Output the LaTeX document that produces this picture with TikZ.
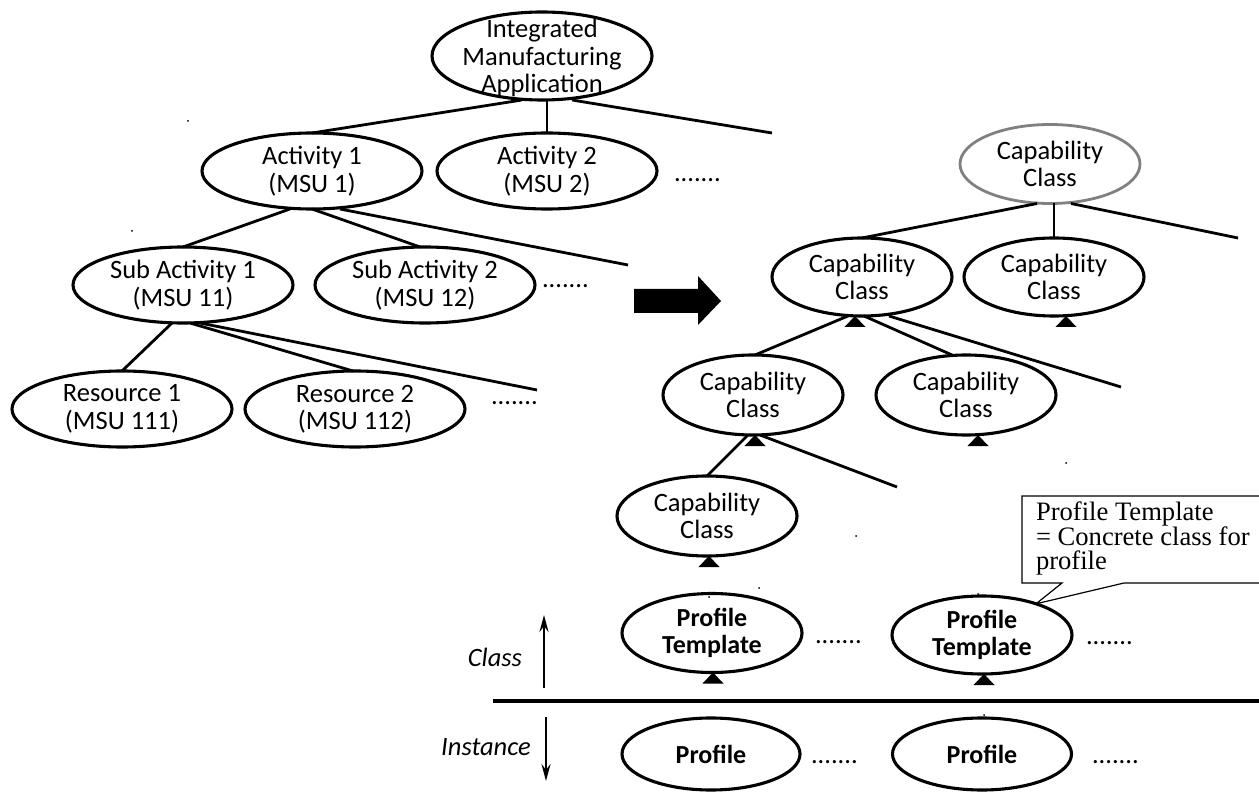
\documentclass[tikz,border=0pt]{standalone}
\usepackage{fontspec}
\setmainfont{Carlito}
\newfontfamily\calloutfont{Liberation Serif}
\usetikzlibrary{shapes.geometric,arrows.meta}

% generalization marker: small filled triangle under a class ellipse
\newcommand\basetri[2]{\fill ([xshift=#2pt]#1.south) -- ++(10.5,11) -- ++(-21,0) -- cycle;}

\begin{document}
\begin{tikzpicture}[x=1pt,y=-1pt,
  every node/.style={inner sep=0pt,outer sep=0pt},
  oval/.style args={#1/#2}{ellipse,draw,line width=3.1pt,minimum width=#1pt,minimum height=#2pt},
  greyoval/.style args={#1/#2}{ellipse,draw=black!50,line width=2.8pt,minimum width=#1pt,minimum height=#2pt},
  txt/.style={align=center,font=\fontsize{26.5}{27.5}\selectfont},
  boldtxt/.style={align=center,font=\fontsize{26}{27}\selectfont\bfseries},
  ittxt/.style={font=\fontsize{26.5}{27.5}\selectfont\itshape},
  more/.style={anchor=base west,font=\fontsize{26.5}{27.5}\selectfont},
  link/.style={line width=2.8pt},
  speck/.style={fill=black}]

\useasboundingbox (0,0) rectangle (1259,794);
\clip (0,0) rectangle (1259,794);

% ---------------- manufacturing application tree ----------------
\node[oval=220/88] (ima) at (542,56) {};
\node[txt] (ima-t) at (542,58) {Integrated\\Manufacturing\\Application};

\node[oval=220/76] (a1) at (312,171) {};
\node[txt] (a1-t) at (a1) {Activity 1\\(MSU 1)};
\node[oval=220/76] (a2) at (547,171) {};
\node[txt] (a2-t) at (a2) {Activity 2\\(MSU 2)};
\node[more] (a-more) at (674,182) {.......};

\node[oval=220/76] (s1) at (183,285) {};
\node[txt] (s1-t) at (s1) {Sub Activity 1\\(MSU 11)};
\node[oval=220/76] (s2) at (425,285) {};
\node[txt] (s2-t) at (s2) {Sub Activity 2\\(MSU 12)};
\node[more] (s-more) at (542,288) {.......};

\node[oval=220/76] (r1) at (122,409) {};
\node[txt] (r1-t) at (r1) {Resource 1\\(MSU 111)};
\node[oval=220/76] (r2) at (355,409) {};
\node[txt] (r2-t) at (r2) {Resource 2\\(MSU 112)};
\node[more] (r-more) at (491,404) {.......};

\coordinate (ima-end) at (772,133);
\coordinate (a1-end) at (628,265);
\coordinate (s1-end) at (537,390);

\draw[link] ([xshift=-20pt]ima.south) -- (a1.north);
\draw[link] (a2.north |- ima.south) -- (a2.north);
\draw[link] ([xshift=30pt]ima.south) -- (ima-end);
\draw[link] ([xshift=-22pt]a1.south) -- (s1.north);
\draw[link] (a1.south) -- ([xshift=-5pt]s2.north);
\draw[link] ([xshift=28pt]a1.south) -- (a1-end);
\draw[link] ([xshift=-11pt]s1.south) -- (r1.north);
\draw[link] ([xshift=7pt]s1.south) -- ([xshift=-2pt]r2.north);
\draw[link] ([xshift=17pt]s1.south) -- (s1-end);

% ---------------- transformation arrow ----------------
\fill (634,289) -- (698,289) -- (698,276) -- (721,301) -- (698,325) -- (698,313) -- (634,313) -- cycle;

% ---------------- capability class hierarchy ----------------
\node[greyoval=180/79] (c0) at (1050,164) {};
\node[txt] (c0-t) at (c0) {Capability\\Class};

\node[oval=180/78] (c1) at (862,277) {};
\node[txt] (c1-t) at (c1) {Capability\\Class};
\node[oval=180/78] (c2) at (1054,277) {};
\node[txt] (c2-t) at (c2) {Capability\\Class};

\node[oval=180/80] (c3) at (753,395) {};
\node[txt] (c3-t) at (c3) {Capability\\Class};
\node[oval=180/80] (c4) at (966,395) {};
\node[txt] (c4-t) at (c4) {Capability\\Class};

\node[oval=180/80] (c5) at (707,516) {};
\node[txt] (c5-t) at (c5) {Capability\\Class};

\coordinate (c0-end) at (1238,238);
\coordinate (c1-end) at (1121,387);
\coordinate (c3-end) at (897,487);

\draw[link] ([xshift=-13pt]c0.south) -- (c1.north);
\draw[link] (c2.north |- c0.south) -- (c2.north);
\draw[link] ([xshift=21pt]c0.south) -- (c0-end);
\draw[link] ([xshift=-14pt]c1.south) -- ([xshift=2pt]c3.north);
\draw[link] ([xshift=2pt]c1.south) -- ([xshift=-14pt]c4.north);
\draw[link] ([xshift=27pt]c1.south) -- (c1-end);
\draw[link] ([xshift=-5pt]c3.south) -- (c5.north);
\draw[link] ([xshift=7pt]c3.south) -- (c3-end);

\basetri{c1}{-7}
\basetri{c2}{12}
\basetri{c3}{2}
\basetri{c4}{12}
\basetri{c5}{2}

% ---------------- profile templates (class level) ----------------
\node[oval=180/79] (pt1) at (712,633) {};
\node[boldtxt] (pt1-t) at (pt1) {Profile\\Template};
\node[oval=180/78] (pt2) at (982,635) {};
\node[boldtxt] (pt2-t) at (pt2) {Profile\\Template};
\node[more] (pt-more1) at (815,643) {.......};
\node[more] (pt-more2) at (1086,644) {.......};
\basetri{pt1}{1}
\basetri{pt2}{2}

% callout describing a profile template
\draw[line width=1.2pt,fill=white] (1022,496) -- (1300,496) -- (1300,583) -- (1124,583)
  -- (pt2.30) -- (1062,583) -- (1022,583) -- cycle;
\node[anchor=north west,align=left,font=\calloutfont\fontsize{26.6}{24.5}\selectfont] (note)
  at (1036,502) {Profile Template\\= Concrete class for\\profile};

% ---------------- class / instance divider ----------------
\draw[line width=3.4pt] (493,701) -- (1259,701);
\coordinate (cls-lo) at (544,688);
\coordinate (cls-hi) at (544,615);
\coordinate (ins-hi) at (546,717);
\coordinate (ins-lo) at (546,781);
\draw[link,-{Stealth[length=17pt,width=9pt,inset=6pt]}] (cls-lo) -- (cls-hi);
\draw[link,-{Stealth[length=17pt,width=9pt,inset=6pt]}] (ins-hi) -- (ins-lo);
\node[ittxt] (cls-lab) at (495,657) {Class};
\node[ittxt] (ins-lab) at (486,747) {Instance};

% ---------------- profiles (instance level) ----------------
\node[oval=178/72] (p1) at (711,754) {};
\node[boldtxt] (p1-t) at (p1) {Profile};
\node[oval=179/72] (p2) at (982,754) {};
\node[boldtxt] (p2-t) at (p2) {Profile};
\node[more] (p-more1) at (811,763) {.......};
\node[more] (p-more2) at (1092,763) {.......};

% stray specks
\foreach \sx/\sy in {188/121,132/231,759/588,856/536,1066/463,709/597,978/594,984/715}
  \fill[speck] (\sx,\sy) circle[radius=1pt];
\end{tikzpicture}
\end{document}
